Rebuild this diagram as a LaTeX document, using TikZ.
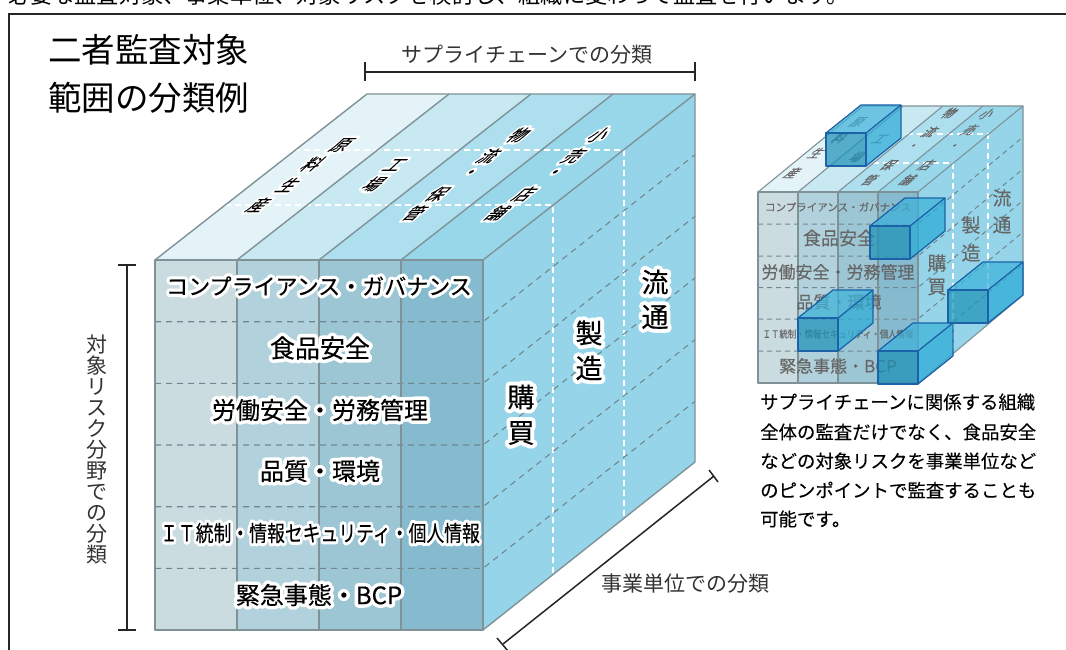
\documentclass[tikz,border=0pt]{standalone}
\usepackage{fontspec}
\setmainfont{Noto Sans CJK JP}
\newfontfamily\medfont[FakeBold=0.35]{Noto Sans CJK JP}
\newfontfamily\semifont[FakeBold=0.15]{Noto Sans CJK JP}
\newfontfamily\halofont[FakeBold=30]{Noto Sans CJK JP}
\definecolor{topA}{HTML}{E4F3F8}
\definecolor{topB}{HTML}{C8E8F2}
\definecolor{topC}{HTML}{ADDFEE}
\definecolor{topD}{HTML}{98D6EA}
\definecolor{sideF}{HTML}{96D5E9}
\definecolor{frA}{HTML}{CBDCE1}
\definecolor{frB}{HTML}{B1D2DC}
\definecolor{frC}{HTML}{9CC6D4}
\definecolor{frD}{HTML}{85BACF}
\definecolor{edgeG}{HTML}{7F9298}
\definecolor{dashG}{HTML}{6F8890}
\definecolor{boxE}{HTML}{1B62A8}
\definecolor{boxF}{HTML}{1E93B8}
\definecolor{boxT}{HTML}{3DB3DA}
\definecolor{boxR}{HTML}{2BABD6}
\newcommand{\halo}[1]{\leavevmode\pgfsetroundjoin\rlap{\halofont\color{white}#1}#1}
\tikzset{
  edgeline/.style={draw=edgeG,line width=1.4pt,line join=round},
  sedgeline/.style={draw=edgeG,line width=1.1pt,line join=round},
  graydash/.style={draw=dashG,line width=1.1pt,dash pattern=on 6pt off 5pt},
  sgraydash/.style={draw=dashG,line width=1pt,dash pattern=on 5pt off 4pt},
  whitedash/.style={draw=white,line width=1.3pt,dash pattern=on 6pt off 4pt},
  ruler/.style={draw=black!85,line width=1.5pt},
  lab/.style={inner sep=0pt,font=\fontsize{21}{24}\selectfont,text=black!80},
  frontlab/.style={inner sep=0pt,font=\medfont\fontsize{#1}{#1}\selectfont,text=black},
  toplab/.style={inner sep=0pt,font=\semifont\fontsize{16}{16}\selectfont,text=black,xslant=1.1},
  stoplab/.style={inner sep=0pt,font=\semifont\fontsize{11.5}{12}\selectfont,text=black!60,xslant=1.1},
  sfrontlab/.style={inner sep=0pt,font=\semifont\fontsize{#1}{#1}\selectfont,text=black!60},
  bluebox/.style={draw=boxE,line width=1.2pt,line join=round},
}
\begin{document}
\begin{tikzpicture}[x=1pt,y=-1pt]
\useasboundingbox (0,0) rectangle (1066,650);
\fill[white] (0,0) rectangle (1066,650);
% cropped heading and frame
\node[anchor=base west,inner sep=0pt,font=\fontsize{22.2}{22}\selectfont] (head) at (8,4) {必要な監査対象、事業単位、対象リスクを検討し、組織に変わって監査を行います。};
\draw[black!85,line width=1.5pt] (9,700) -- (9,14) -- (1070,14);
% title
\node[anchor=west,inner sep=0pt,font=\fontsize{33.5}{34}\selectfont] (t1) at (48,50) {二者監査対象};
\node[anchor=west,inner sep=0pt,font=\fontsize{33.5}{34}\selectfont] (t2) at (48,98) {範囲の分類例};
% ---------------- main cube
\foreach \c/\i in {topA/0,topB/1,topC/2,topD/3}{
  \fill[\c] ({155+82*\i},260) -- ({367+82*\i},94) -- ({449+82*\i},94) -- ({237+82*\i},260) -- cycle;
}
\foreach \c/\i in {frA/0,frB/1,frC/2,frD/3}{
  \fill[\c] ({155+82*\i},260) rectangle ({237+82*\i},630);
}
\fill[sideF] (483,260) -- (695,94) -- (695,462) -- (483,630) -- cycle;
% white dashed
\draw[whitedash] (225,205) -- (553,205) -- (553,575);
\draw[whitedash] (294,150) -- (624,150) -- (624,518);
% gray dashed
\foreach \y in {321.7,383.3,445,506.7,568.3}{
  \draw[graydash] (155,\y) -- (483,\y) -- (695,{\y-167});
}
% cube edges
\foreach \i in {0,1,2,3,4}{
  \draw[edgeline] ({155+82*\i},260) -- ({367+82*\i},94);
}
\foreach \i in {1,2,3}{
  \draw[edgeline] ({155+82*\i},260) -- ({155+82*\i},630);
}
\draw[edgeline] (155,260) rectangle (483,630);
\draw[edgeline] (367,94) -- (695,94) -- (695,462) -- (483,630);
% main cube labels
\node[frontlab=22] (m1) at (319,286) {\halo{コンプライアンス・ガバナンス}};
\node[frontlab=25] (m2) at (320,348) {\halo{食品安全}};
\node[frontlab=24] (m3) at (320,410) {\halo{労働安全・労務管理}};
\node[frontlab=24] (m4) at (320,471) {\halo{品質・環境}};
\node[frontlab=22,xscale=.81] (m5) at (320,533) {\halo{ＩＴ統制・情報セキュリティ・個人情報}};
\node[frontlab=24] (m6) at (319,595) {\halo{緊急事態・BCP}};
\foreach \n/\x/\y/\ch in {a1/521/397/購,a2/521/433/買,b1/589/333/製,b2/589/368/造,c1/655/282/流,c2/655/317/通}{
  \node[frontlab=27] (\n) at (\x,\y) {\halo{\ch}};
}
\foreach \n/\x/\y/\ch in {d1/342/145/原,d2/313/164/料,d3/289/185/生,d4/259/205/産,
  e1/395/165/工,e2/374/184/場,
  f1/519/135/物,f2/489/156/流,f3/469/174/・,f4/438/194/保,f5/415/213/管,
  g1/599/135/小,g2/574/156/売,g3/553/174/・,g4/525/194/店,g5/498/213/舗}{
  \node[toplab] (\n) at (\x,\y) {\halo{\ch}};
}
% rulers
\coordinate (ra) at (365,72); \coordinate (rb) at (695,72);
\draw[ruler] (ra) -- (rb);
\draw[ruler] (365,62) -- (365,81); \draw[ruler] (695,62) -- (695,81);
\node[lab] (rl1) at (527,55) {サプライチェーンでの分類};
\coordinate (rc) at (127,265); \coordinate (rd) at (127,630);
\draw[ruler] (rc) -- (rd);
\draw[ruler] (118,265) -- (136,265); \draw[ruler] (118,630) -- (136,630);
\node[lab,align=center,font=\fontsize{21}{21}\selectfont] (rl2) at (97,450) {対\\象\\リ\\ス\\ク\\分\\野\\で\\の\\分\\類};
\coordinate (re) at (714,476); \coordinate (rf) at (503,644);
\draw[ruler] (re) -- (rf);
\draw[ruler] (709,470) -- (718,482); \draw[ruler] (497,638) -- (508,651);
\node[lab] (rl3) at (685,584) {事業単位での分類};
% ---------------- small cube
\foreach \c/\i in {topA/0,topB/1,topC/2,topD/3}{
  \fill[\c] ({758+40*\i},192) -- ({863+40*\i},106) -- ({903+40*\i},106) -- ({798+40*\i},192) -- cycle;
}
\foreach \c/\i in {frA/0,frB/1,frC/2,frD/3}{
  \fill[\c] ({758+40*\i},192) rectangle ({798+40*\i},383);
}
\fill[sideF] (918,192) -- (1023,106) -- (1023,295) -- (918,383) -- cycle;
\draw[whitedash] (873,163) -- (953,163) -- (953,354);
\draw[whitedash] (907,134) -- (988,134) -- (988,324);
\foreach \y in {224,256,287.5,319,351}{
  \draw[sgraydash] (758,\y) -- (918,\y) -- (1023,{\y-87});
}
\foreach \i in {0,1,2,3,4}{
  \draw[sedgeline] ({758+40*\i},192) -- ({863+40*\i},106);
}
\foreach \i in {1,2,3}{
  \draw[sedgeline] ({758+40*\i},192) -- ({758+40*\i},383);
}
\draw[sedgeline] (758,192) rectangle (918,383);
\draw[sedgeline] (863,106) -- (1023,106) -- (1023,295) -- (918,383);
% small cube labels
\node[sfrontlab=10.5] (s1) at (838,207) {コンプライアンス・ガバナンス};
\node[sfrontlab=18] (s2) at (839,238) {食品安全};
\node[sfrontlab=17] (s3) at (838,272) {労働安全・労務管理};
\node[sfrontlab=17] (s4) at (839,302) {品質・環境};
\node[sfrontlab=10,xscale=.84] (s5) at (838,334) {ＩＴ統制・情報セキュリティ・個人情報};
\node[sfrontlab=17] (s6) at (838,366) {緊急事態・BCP};
\foreach \n/\x/\y/\ch in {h1/937/263/購,h2/937/287/買,i1/971/225/製,i2/971/253/造,j1/1002/198/流,j2/1002/225/通}{
  \node[sfrontlab=19] (\n) at (\x,\y) {\ch};
}
\foreach \n/\x/\y/\ch in {k1/858/122/原,k2/840/138/料,k3/817/153/生,k4/793/173/産,
  l1/880/139/工,l2/857/157/場,
  o1/950/113/物,o2/930/132/流,o3/912/147/・,o4/889/165/保,o5/870/180/管,
  p1/987/114/小,p2/970/130/売,p3/953/147/・,p4/927/165/店,p5/908/180/舗}{
  \node[stoplab] (\n) at (\x,\y) {\ch};
}
% blue boxes: front left x, front top y
\foreach \x/\y in {826/133,870/226,948/290,798/318,878/351}{
  \fill[fill=boxF,fill opacity=.72] (\x,\y) rectangle ({\x+40},{\y+33});
  \fill[fill=boxT,fill opacity=.72] (\x,\y) -- ({\x+35},{\y-28}) -- ({\x+75},{\y-28}) -- ({\x+40},\y) -- cycle;
  \fill[fill=boxR,fill opacity=.72] ({\x+40},\y) -- ({\x+75},{\y-28}) -- ({\x+75},{\y+5}) -- ({\x+40},{\y+33}) -- cycle;
  \draw[bluebox] (\x,\y) rectangle ({\x+40},{\y+33});
  \draw[bluebox] (\x,\y) -- ({\x+35},{\y-28}) -- ({\x+75},{\y-28}) -- ({\x+75},{\y+5}) -- ({\x+40},{\y+33});
  \draw[bluebox] ({\x+40},\y) -- ({\x+75},{\y-28});
}
% paragraph
\foreach \n/\y/\s in {q1/402/サプライチェーンに関係する組織,q2/432/全体の監査だけでなく、食品安全,q3/461/などの対象リスクを事業単位など,q4/490/のピンポイントで監査することも,q5/519/可能です。}{
  \node[anchor=west,inner sep=0pt,font=\semifont\fontsize{18.4}{18}\selectfont] (\n) at (760,\y) {\s};
}
\end{tikzpicture}
\end{document}
